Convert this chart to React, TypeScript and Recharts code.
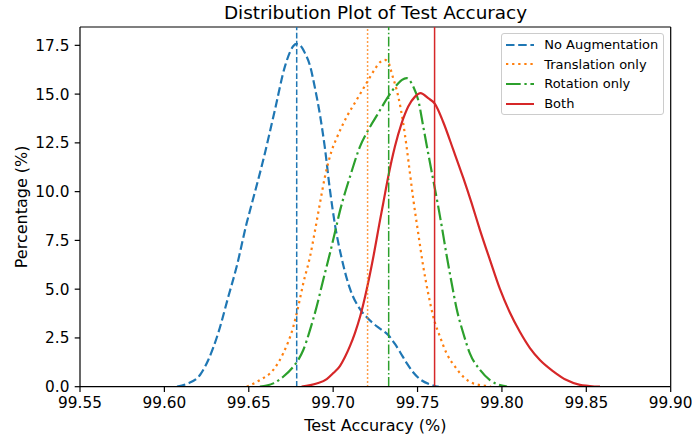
import React from "react";
import { LineChart, Line, XAxis, YAxis, ReferenceLine, Legend, Label } from "recharts";

const xTicks = [99.55, 99.6, 99.65, 99.7, 99.75, 99.8, 99.85, 99.9];
const yTicks = [0, 2.5, 5, 7.5, 10, 12.5, 15, 17.5];

const seriesNames = ["No Augmentation", "Translation only", "Rotation only", "Both"];
const seriesColors = ["#1f77b4", "#ff7f0e", "#2ca02c", "#d62728"];
const meanValues = [99.6784, 99.7204, 99.7329, 99.7601];

const noAugmentation = [
  [99.6075, 0], [99.6132, 0.14], [99.6211, 0.6], [99.626, 1.37], [99.6319, 2.75], [99.6379, 4.62],
  [99.6428, 6.15], [99.6488, 8.4], [99.6517, 9.35], [99.6586, 11.63], [99.6655, 14.19], [99.6714, 16.41],
  [99.6744, 17.15], [99.6764, 17.47], [99.6784, 17.57], [99.6804, 17.5], [99.6833, 17.1], [99.6863, 16.45],
  [99.6892, 15.32], [99.6922, 13.93], [99.6951, 12.24], [99.6981, 10.09], [99.7011, 8.29], [99.705, 6.6],
  [99.71, 5.01], [99.7159, 3.98], [99.7198, 3.57], [99.7238, 3.24], [99.7277, 2.98], [99.7326, 2.65],
  [99.7366, 2.19], [99.7396, 1.78], [99.7435, 1.22], [99.7475, 0.73], [99.7514, 0.39], [99.7573, 0.12],
  [99.7615, 0.01], [99.7625, 0],
];

const translationOnly = [
  [99.6488, 0], [99.6566, 0.34], [99.6645, 0.86], [99.6704, 1.71], [99.6764, 3.08], [99.6793, 4.1],
  [99.6823, 5.3], [99.6863, 6.67], [99.6892, 7.98], [99.6922, 9.42], [99.6951, 10.75], [99.6991, 12.09],
  [99.7021, 12.75], [99.708, 13.83], [99.7139, 14.7], [99.7198, 15.57], [99.7248, 16.29], [99.7277, 16.63],
  [99.7307, 16.75], [99.7331, 16.55], [99.7347, 16.07], [99.7386, 14.87], [99.7415, 13.51], [99.7435, 12.31],
  [99.7455, 10.94], [99.7475, 9.6], [99.7504, 7.87], [99.7534, 6.15], [99.7563, 4.79], [99.7593, 3.59],
  [99.7633, 2.56], [99.7672, 1.71], [99.7722, 1.03], [99.7771, 0.51], [99.783, 0.17], [99.7909, 0.04],
  [99.7935, 0],
];

const rotationOnly = [
  [99.6566, 0], [99.6645, 0.17], [99.6704, 0.51], [99.6764, 1.03], [99.6793, 1.37], [99.6823, 1.88],
  [99.6863, 2.91], [99.6902, 4.1], [99.6941, 5.47], [99.6981, 6.84], [99.7011, 7.93], [99.704, 9.0],
  [99.71, 10.77], [99.7159, 12.31], [99.7208, 13.16], [99.7267, 14.02], [99.7326, 14.87], [99.7386, 15.56],
  [99.7408, 15.73], [99.7435, 15.82], [99.7455, 15.68], [99.7475, 15.38], [99.7504, 14.7], [99.7534, 13.33],
  [99.7563, 11.97], [99.7593, 10.6], [99.7623, 9.22], [99.7643, 8.24], [99.7672, 6.75], [99.7702, 5.32],
  [99.7732, 3.98], [99.7771, 2.74], [99.781, 1.71], [99.787, 0.86], [99.7929, 0.34], [99.8008, 0.04],
  [99.803, 0],
];

const both = [
  [99.6813, 0], [99.6902, 0.16], [99.6962, 0.39], [99.7001, 0.7], [99.704, 1.06], [99.707, 1.52],
  [99.71, 2.09], [99.7129, 2.75], [99.7159, 3.57], [99.7198, 4.96], [99.7238, 6.65], [99.7277, 8.5],
  [99.7297, 9.42], [99.7326, 10.75], [99.7366, 12.31], [99.7406, 13.51], [99.7445, 14.36], [99.7485, 14.87],
  [99.7518, 15.05], [99.7563, 14.79], [99.7603, 14.5], [99.7652, 13.57], [99.7712, 12.14], [99.7771, 10.7],
  [99.782, 9.42], [99.787, 8.03], [99.7929, 6.5], [99.7988, 5.01], [99.8047, 3.8], [99.8107, 2.8],
  [99.8166, 1.98], [99.8225, 1.37], [99.8304, 0.79], [99.8383, 0.34], [99.8462, 0.09], [99.8551, 0.01],
  [99.8581, 0],
];

const seriesPoints = [noAugmentation, translationOnly, rotationOnly, both];
const curveDash = ["8.5 3.7", "2.3 3.8", "14.7 3.7 2.3 3.7", undefined];
const meanDash = ["5.65 2.45", "1.5 2.5", "9.8 2.45 1.5 2.45", undefined];

const xDomain = [99.55, 99.9];
const yDomain = [0, 18.44];

const FONT = "'DejaVu Sans', sans-serif";

const toRows = (pts: number[][]) => pts.map(([x, y]) => ({ x, y }));

const LegendBox = () => (
  <div
    style={{
      position: "relative",
      width: 163,
      height: 82,
      boxSizing: "border-box",
      border: "1px solid #cccccc",
      borderRadius: 3,
      background: "rgba(255,255,255,0.8)",
      fontFamily: FONT,
    }}
  >
    {seriesNames.map((name, i) => (
      <div
        key={name}
        style={{
          position: "absolute",
          left: 4,
          top: 10.5 + i * 19.6 - 10,
          height: 20,
          display: "flex",
          alignItems: "center",
          whiteSpace: "nowrap",
        }}
      >
        <svg width={28} height={20} style={{ display: "block" }}>
          <line x1={0} y1={10} x2={28} y2={10} stroke={seriesColors[i]} strokeWidth={2}
            strokeDasharray={curveDash[i]} />
        </svg>
        <span style={{ marginLeft: 10.5, fontSize: 13, color: "#000" }}>{name}</span>
      </div>
    ))}
  </div>
);

export default function App() {
  return (
    <div style={{ position: "absolute", left: 0, top: 0, width: 692, height: 440, background: "#fff" }}>
      <div
        style={{
          position: "absolute",
          left: 80,
          width: 591,
          top: 4,
          textAlign: "center",
          fontFamily: FONT,
          fontSize: 18.4,
          lineHeight: "18px",
          color: "#000",
          whiteSpace: "nowrap",
        }}
      >
        Distribution Plot of Test Accuracy
      </div>
      <LineChart width={692} height={440} margin={{ top: 27, right: 21.3, bottom: 0, left: 0 }}>
        <XAxis
          dataKey="x"
          type="number"
          domain={xDomain}
          ticks={xTicks}
          allowDataOverflow
          height={53.3}
          tickSize={5.3}
          tickMargin={5.6}
          tickFormatter={(v: number) => v.toFixed(2)}
          tick={{ fill: "#000", fontSize: 15.3, fontFamily: FONT }}
          tickLine={{ stroke: "#000", strokeWidth: 1.2 }}
          axisLine={{ stroke: "#000", strokeWidth: 1.2 }}
        >
          <Label
            content={(props: any) => {
              const vb = props.viewBox || {};
              return (
                <text x={vb.x + vb.width / 2} y={vb.y + 44.3} textAnchor="middle"
                  fontFamily={FONT} fontSize={16} fill="#000">
                  Test Accuracy (%)
                </text>
              );
            }}
          />
        </XAxis>
        <YAxis
          type="number"
          domain={yDomain}
          ticks={yTicks}
          allowDataOverflow
          width={80}
          tickSize={5.3}
          tickMargin={5.3}
          tickFormatter={(v: number) => v.toFixed(1)}
          tick={{ fill: "#000", fontSize: 15.3, fontFamily: FONT }}
          tickLine={{ stroke: "#000", strokeWidth: 1.2 }}
          axisLine={{ stroke: "#000", strokeWidth: 1.2 }}
        >
          <Label
            content={(props: any) => {
              const vb = props.viewBox || {};
              const cx = 27;
              const cy = vb.y + vb.height / 2;
              return (
                <text x={cx} y={cy} transform={`rotate(-90, ${cx}, ${cy})`} textAnchor="middle"
                  fontFamily={FONT} fontSize={16} fill="#000">
                  Percentage (%)
                </text>
              );
            }}
          />
        </YAxis>
        <ReferenceLine y={yDomain[1]} stroke="#000" strokeWidth={1.2} ifOverflow="visible" />
        <ReferenceLine x={xDomain[1]} stroke="#000" strokeWidth={1.2} ifOverflow="visible" />
        {seriesPoints.map((pts, i) => (
          <Line
            key={seriesNames[i]}
            name={seriesNames[i]}
            data={toRows(pts)}
            dataKey="y"
            type="monotone"
            stroke={seriesColors[i]}
            strokeWidth={2.2}
            strokeDasharray={curveDash[i]}
            dot={false}
            activeDot={false}
            isAnimationActive={false}
          />
        ))}
        {meanValues.map((m, i) => (
          <ReferenceLine
            key={"mean" + i}
            x={m}
            stroke={seriesColors[i]}
            strokeWidth={1.5}
            strokeDasharray={meanDash[i]}
          />
        ))}
        <Legend
          layout="vertical"
          align="center"
          verticalAlign="middle"
          wrapperStyle={{ left: 500.7, top: 33.3, width: 163, height: 82 }}
          content={() => <LegendBox />}
        />
      </LineChart>
    </div>
  );
}
